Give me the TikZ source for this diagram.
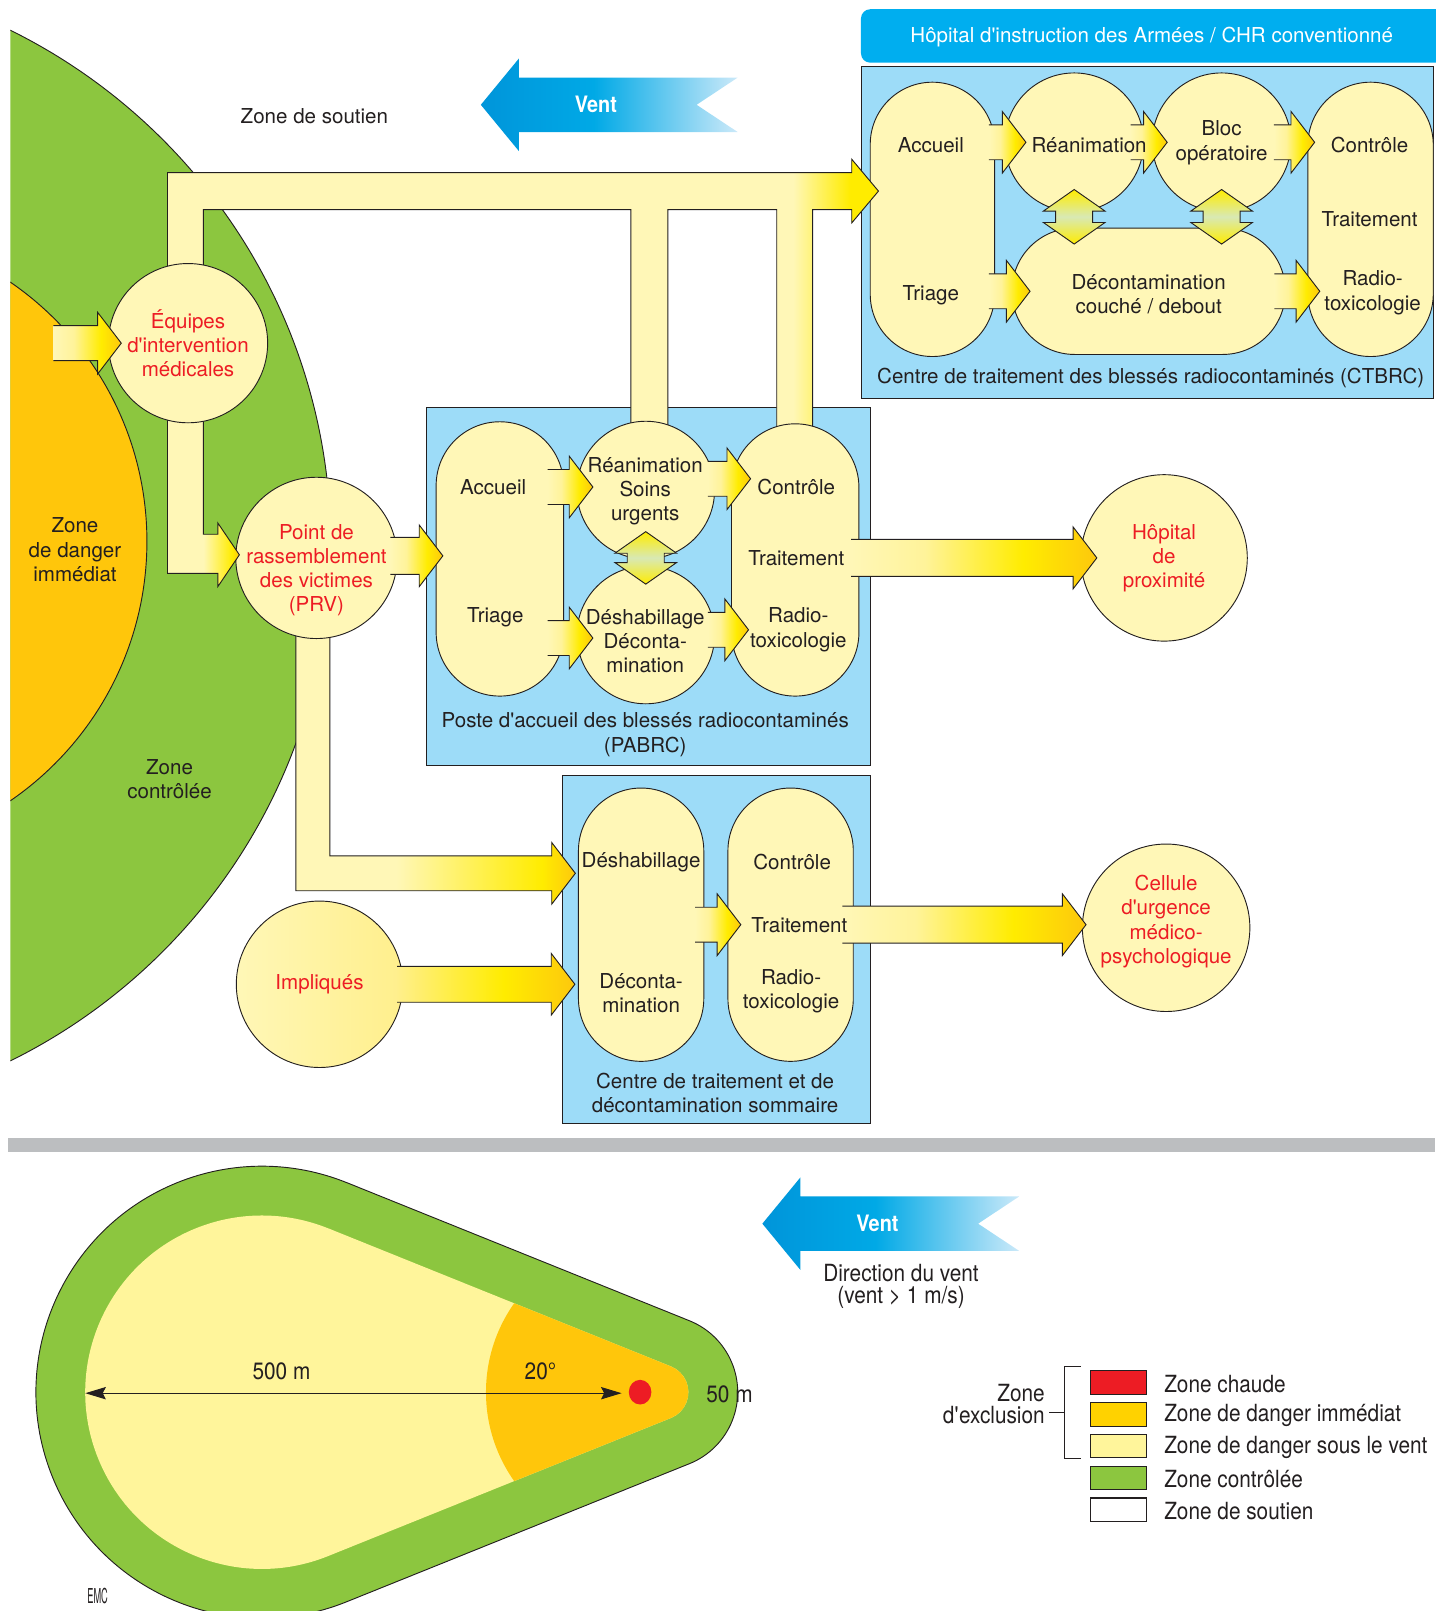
\documentclass[tikz,border=0pt]{standalone}
\usepackage{fontspec}
\setmainfont{TeX Gyre Heros}
\newfontfamily\cnfont[FakeStretch=0.88]{TeX Gyre Heros}
\newfontfamily\logofont[FakeStretch=0.45]{TeX Gyre Heros}
\usepackage{xcolor}
\usepackage{tikz}
\usetikzlibrary{calc,arrows.meta}

\definecolor{zgreen}{HTML}{8CC63F}
\definecolor{zorange}{HTML}{FFC60B}
\definecolor{zpale}{HTML}{FFF59B}
\definecolor{zred}{HTML}{ED1C24}
\definecolor{legorange}{HTML}{FFD200}
\definecolor{nodefill}{HTML}{FFF7B7}
\definecolor{boxblue}{HTML}{9DDCF8}
\definecolor{titleblue}{HTML}{00AEEF}
\definecolor{ink}{HTML}{231F20}
\definecolor{redtext}{HTML}{ED1C24}
\definecolor{brightyellow}{HTML}{FFEC00}
\definecolor{gold}{HTML}{FDC80D}
\definecolor{paleyellow}{HTML}{FFF39A}
\definecolor{palegreen}{HTML}{D8E9B4}
\definecolor{impyellow}{HTML}{FFEF8C}
\definecolor{ventdark}{HTML}{0095DA}
\definecolor{ventmid}{HTML}{00A9E6}
\definecolor{ventlight}{HTML}{CBE9F9}
\definecolor{bargrey}{HTML}{BCBEC0}

\pgfdeclarehorizontalshading{flowshade}{100bp}{color(0bp)=(nodefill); color(25bp)=(nodefill); color(40bp)=(paleyellow); color(60bp)=(brightyellow); color(75bp)=(gold); color(100bp)=(gold)}
\pgfdeclarehorizontalshading{impshade}{100bp}{color(0bp)=(impyellow); color(25bp)=(impyellow); color(55bp)=(brightyellow); color(75bp)=(gold); color(100bp)=(gold)}
\pgfdeclarehorizontalshading{pipeAshade}{100bp}{color(0bp)=(nodefill); color(69bp)=(nodefill); color(73bp)=(brightyellow); color(100bp)=(brightyellow)}
\pgfdeclarehorizontalshading{pipeBshade}{100bp}{color(0bp)=(nodefill); color(50bp)=(nodefill); color(70bp)=(brightyellow); color(75bp)=(gold); color(100bp)=(gold)}
\pgfdeclarehorizontalshading{pipeCshade}{100bp}{color(0bp)=(nodefill); color(43bp)=(nodefill); color(69bp)=(brightyellow); color(75bp)=(gold); color(100bp)=(gold)}
\pgfdeclarehorizontalshading{ventshade}{100bp}{color(0bp)=(ventdark); color(25bp)=(ventdark); color(47bp)=(ventmid); color(75bp)=(ventlight); color(100bp)=(ventlight)}
\pgfdeclareverticalshading{dblshade}{100bp}{color(0bp)=(brightyellow); color(25bp)=(brightyellow); color(50bp)=(palegreen); color(75bp)=(brightyellow); color(100bp)=(brightyellow)}

\newcommand\mainsize{\fontsize{20}{23.5}\selectfont}
\newcommand\legsize{\cnfont\fontsize{23}{21.5}\selectfont}
\newcommand\apos{\textquotesingle}

% block arrow: [shading]{half shaft}{tail}{tip}
\newcommand\flowarrow[4][flowshade]{%
  \shade[shading=#1] let \p1=(#3), \p2=(#4) in
    (\x1,\y2+#2pt) -- (\x2-23pt,\y2+#2pt) -- (\x2-23pt,\y2+30pt) -- (\x2,\y2)
    -- (\x2-23pt,\y2-30pt) -- (\x2-23pt,\y2-#2pt) -- (\x1,\y2-#2pt) -- cycle;
  \draw[rim] let \p1=(#3), \p2=(#4) in
    (\x1,\y2+#2pt) -- (\x2-23pt,\y2+#2pt) -- (\x2-23pt,\y2+30pt) -- (\x2,\y2)
    -- (\x2-23pt,\y2-30pt) -- (\x2-23pt,\y2-#2pt) -- (\x1,\y2-#2pt);
}
% double arrow: {top tip}{bottom tip}
\newcommand\dblarrow[2]{%
  \shadedraw[shading=dblshade, rim] let \p1=(#1), \p2=(#2) in
    (\x1,\y1) -- (\x1+30pt,\y1-21pt) -- (\x1+18pt,\y1-21pt) -- (\x1+18pt,\y2+21pt)
    -- (\x1+30pt,\y2+21pt) -- (\x1,\y2) -- (\x1-30pt,\y2+21pt) -- (\x1-18pt,\y2+21pt)
    -- (\x1-18pt,\y1-21pt) -- (\x1-30pt,\y1-21pt) -- cycle;
}
% wind arrow: {tip}{name}
\newcommand\ventarrow[2]{%
  \shade[shading=ventshade, shift={(#1)}] (0,0) -- (37,-45) -- (37,-26.5) -- (250,-26.5)
    -- (210,0) -- (250,26.5) -- (37,26.5) -- (37,45) -- cycle;
  \node[venttext] (#2) at ($(#1)+(112,0)$) {Vent};
}

\begin{document}
\begin{tikzpicture}[x=1pt, y=-1pt,
    rim/.style={draw=ink, line width=0.9},
    zone/.style={draw=ink, line width=0.9},
    stadium/.style={rim, fill=nodefill, rectangle, rounded corners=61, minimum width=122, minimum height=267, inner sep=0},
    spot/.style={rim, fill=nodefill, circle, minimum size=#1, inner sep=0},
    roomtext/.style={text=ink, font=\mainsize, align=center, inner sep=0},
    teamtext/.style={text=redtext, font=\mainsize, align=center, inner sep=0},
    bluebox/.style={draw=ink, line width=0.9, fill=boxblue},
    venttext/.style={text=white, font=\cnfont\bfseries\fontsize{22}{22}\selectfont, inner sep=0},
    legtext/.style={text=ink, font=\legsize, inner sep=0}]
\useasboundingbox (0,0) rectangle (1397,1568);

% zones
\begin{scope}
  \clip (10,0) rectangle (700,1100);
  \filldraw[zone, fill=zgreen] (-237,531) circle[radius=559];
  \filldraw[zone, fill=zorange] (-163,527) circle[radius=306];
\end{scope}
\node[roomtext] (soutien) at (306,113) {Zone de soutien};
\node[roomtext] (danger) at (73,535) {Zone\\de danger\\immédiat};
\node[roomtext] (controlee) at (165,758) {Zone\\contrôlée};
\ventarrow{468,102}{ventA}

% boxes
\fill[titleblue, rounded corners=9] (838,9) rectangle (1420,61);
\node[roomtext, text=white] (hia) at (1121,36) {Hôpital d\apos instruction des Armées / CHR conventionné};
\filldraw[bluebox] (838,65) rectangle (1395,388);
\filldraw[bluebox] (415,397) rectangle (847,745);
\filldraw[bluebox] (547,755) rectangle (847,1093);

% CTBRC
\node[stadium, minimum width=121, rounded corners=60.5] (ctLeft) at (907.5,213.5) {};
\node[spot=135] (ctRea) at (1045.5,138.5) {};
\node[spot=135] (ctBloc) at (1189,138.5) {};
\node[stadium, minimum width=266, minimum height=123] (ctDec) at (1118,283.5) {};
\node[stadium] (ctRight) at (1334,213.5) {};

% pipes
\shadedraw[shading=pipeAshade, rim] (163,300) -- (163,168) -- (829,168) -- (829,155) -- (855,186)
  -- (829,217) -- (829,204) -- (791,204) -- (791,430) -- (756,430) -- (756,204) -- (650,204)
  -- (650,430) -- (614,430) -- (614,204) -- (198,204) -- (198,300) -- cycle;

% PABRC
\node[stadium, minimum width=124, rounded corners=62] (paLeft) at (486.5,544) {};
\node[spot=134] (paRea) at (628.5,477) {};
\node[spot=134] (paDes) at (628.5,618) {};
\node[stadium, minimum width=124, minimum height=265, rounded corners=62] (paRight) at (774,545) {};

% centre sommaire
\node[stadium, minimum height=266] (soLeft) at (624,900) {};
\node[stadium, minimum height=266] (soRight) at (769.5,900) {};

\shadedraw[shading=pipeCshade, rim] (288,600) -- (288,867) -- (537,867) -- (537,880) -- (560,850)
  -- (537,820) -- (537,833) -- (321,833) -- (321,600) -- cycle;
\node[spot=157] (prv) at (308,543) {};
\shadedraw[shading=pipeBshade, rim] (163,380) -- (163,558) -- (212,558) -- (212,571) -- (233,540)
  -- (212,509) -- (212,520) -- (198,520) -- (198,380) -- cycle;
\node[spot=155] (eqp) at (183,334) {};
\node[spot=162, left color=nodefill, right color=impyellow] (imp) at (311,958) {};
\node[spot=162] (hop) at (1133,543) {};
\node[spot=163] (cel) at (1135,903) {};

% flows
\coordinate (eqpIn) at (52,334);
\flowarrow{17}{eqpIn}{$(eqp.west)+(13,0)$}
\flowarrow{18}{$(prv.east)+(-7,0)$}{$(paLeft.west |- prv.center)+(7,-2)$}
\flowarrow[impshade]{17.5}{$(imp.east)+(-6,0)$}{$(soLeft.west |- imp.center)+(-3,0)$}
\flowarrow{17}{$(ctLeft.east)+(-6,0)$}{$(ctRea.west)+(21,0)$}
\flowarrow{17}{$(ctRea.east)+(-13,0)$}{$(ctBloc.west)+(15,0)$}
\flowarrow{17}{$(ctBloc.east)+(-17,0)$}{$(ctRight.west |- ctBloc.center)+(7,0)$}
\flowarrow{17}{$(ctLeft.east)+(-6,0)$}{$(ctDec.west)+(18,0)$}
\flowarrow{17}{$(ctDec.east)+(-11,0)$}{$(ctRight.west |- ctDec.center)+(12,0)$}
\flowarrow{17}{$(paLeft.east)+(-16,0)$}{$(paRea.west)+(16,-3)$}
\flowarrow{17}{$(paLeft.east)+(-16,0)$}{$(paDes.west)+(16,3)$}
\flowarrow{17}{$(paRea.east)+(-7,0)$}{$(paRight.west |- paRea.center)+(19,-11)$}
\flowarrow{17}{$(paDes.east)+(-7,0)$}{$(paRight.west |- paDes.center)+(17,-5)$}
\flowarrow{18}{$(paRight.east)+(-8,0)$}{$(hop.west)+(16,0)$}
\flowarrow{17}{$(soLeft.east)+(-9,0)$}{$(soRight.west)+(13,0)$}
\flowarrow{18}{$(soRight.east)+(-11,0)$}{$(cel.west)+(4,-3)$}
\dblarrow{$(paRea.south)+(0,-27)$}{$(paDes.north)+(0,18)$}
\dblarrow{$(ctRea.south)+(0,-22)$}{$(ctRea.south |- ctDec.north)+(0,16)$}
\dblarrow{$(ctBloc.south)+(0,-22)$}{$(ctBloc.south |- ctDec.north)+(0,16)$}

% texts
\node[roomtext] (ctAcc) at (906,141) {Accueil};
\node[roomtext] (ctTri) at (906,287) {Triage};
\node[roomtext] (ctReaT) at (1060,141) {Réanimation};
\node[roomtext] (ctBlocT) at (1189,139) {Bloc\\opératoire};
\node[roomtext] (ctDecT) at (1118,286) {Décontamination\\couché / debout};
\node[roomtext] (ctCtrl) at (1333,141) {Contrôle};
\node[roomtext] (ctTrt) at (1333,213) {Traitement};
\node[roomtext] (ctRad) at (1336,285) {Radio-\\toxicologie};
\node[roomtext] (ctCap) at (1120,368) {Centre de traitement des blessés radiocontaminés (CTBRC)};

\node[roomtext] (paAcc) at (480,474) {Accueil};
\node[roomtext] (paTri) at (482,601) {Triage};
\node[roomtext] (paReaT) at (628,478) {Réanimation\\Soins\\urgents};
\node[roomtext] (paDesT) at (628,624) {Déshabillage\\Déconta-\\mination};
\node[roomtext] (paCtrl) at (775,474) {Contrôle};
\node[roomtext] (paTrt) at (775,543) {Traitement};
\node[roomtext] (paRad) at (777,613) {Radio-\\toxicologie};
\node[roomtext] (paCap) at (628,715) {Poste d\apos accueil des blessés radiocontaminés\\(PABRC)};

\node[roomtext] (soDesT) at (624,839) {Déshabillage};
\node[roomtext] (soDecT) at (624,967) {Déconta-\\mination};
\node[roomtext] (soCtrl) at (771,839) {Contrôle};
\node[roomtext] (soTrt) at (778,900) {Traitement};
\node[roomtext] (soRad) at (770,965) {Radio-\\toxicologie};
\node[roomtext] (soCap) at (696,1064) {Centre de traitement et de\\décontamination sommaire};

\node[teamtext] (eqpT) at (183,334) {Équipes\\d\apos intervention\\médicales};
\node[teamtext] (prvT) at (308,555) {Point de\\rassemblement\\des victimes\\(PRV)};
\node[teamtext] (impT) at (311,958) {Impliqués};
\node[teamtext] (hopT) at (1133,543) {Hôpital\\de\\proximité};
\node[teamtext] (celT) at (1135,897) {Cellule\\d\apos urgence\\médico-\\psychologique};

% lower part
\fill[bargrey] (8,1108) rectangle (1397,1121);
\ventarrow{742,1191}{ventB}
\node[legtext, align=center] (direction) at (877,1252) {Direction du vent\\(vent > 1 m/s)};

\filldraw[zone, fill=zgreen] (337.4,1151) -- (671.1,1285.5) arc[start angle=-68, end angle=68, radius=75]
  -- (337.4,1559) arc[start angle=68, end angle=292, radius=220] -- cycle;
\fill[zpale] (319.4,1195.5) -- (653.1,1330) arc[start angle=-68, end angle=68, radius=27]
  -- (319.4,1514.5) arc[start angle=68, end angle=292, radius=172] -- cycle;
\begin{scope}
  \clip (319.4,1195.5) -- (653.1,1330) arc[start angle=-68, end angle=68, radius=27]
    -- (319.4,1514.5) arc[start angle=68, end angle=292, radius=172] -- cycle;
  \fill[zorange] (623,1355) circle[radius=150];
\end{scope}
\fill[zred] (623,1355) ellipse[x radius=11, y radius=12];
\coordinate (dimL) at (83,1356);
\coordinate (dimR) at (605,1356);
\draw[ink, line width=1, {Stealth[length=20pt,width=12pt,inset=3pt]}-{Stealth[length=20pt,width=12pt,inset=3pt]}] (dimL) -- (dimR);
\node[legtext] (d500) at (274,1335) {500 m};
\node[legtext] (d20) at (526,1335) {20°};
\node[legtext] (d50) at (710,1357) {50 m};
\node[text=ink, font=\logofont\fontsize{20}{20}\selectfont, inner sep=0] (emc) at (95,1553) {EMC};

% legend
\draw[ink, line width=1] (1052,1330) -- (1036,1330) -- (1036,1420) -- (1052,1420);
\draw[ink, line width=1] (1036,1375) -- (1021,1375);
\node[legtext, align=right, anchor=east] (excl) at (1017,1367) {Zone\\d\apos exclusion};
\foreach \col/\txt [count=\i from 0] in {zred/Zone chaude, legorange/Zone de danger immédiat, zpale/Zone de danger sous le vent, zgreen/Zone contrôlée, white/Zone de soutien}{
  \filldraw[draw=ink, line width=1, fill=\col] (1061,1334+31*\i) rectangle (1116,1357+31*\i);
  \node[legtext, anchor=west] (leg\i) at (1133,1347+31*\i) {\txt};
}
\end{tikzpicture}
\end{document}
